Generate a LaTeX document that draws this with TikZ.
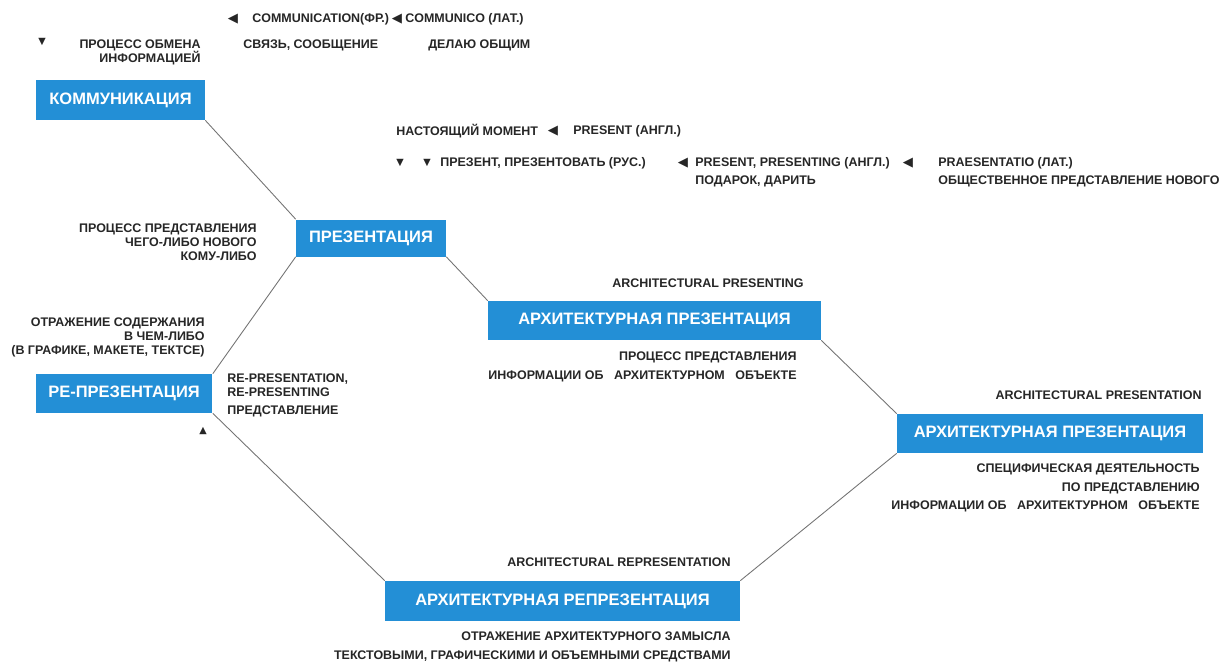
\documentclass[tikz,border=0pt]{standalone}
\usepackage{fontspec}
\setmainfont{Liberation Sans}
\newfontfamily\symf{DejaVu Sans}
\definecolor{termblue}{RGB}{35,143,214}

\begin{document}
\begin{tikzpicture}[x=0.02cm,y=-0.02cm,
		term/.style={rectangle,fill=termblue,text=white,inner sep=0pt,
			font=\bfseries\fontsize{9.4}{10}\selectfont},
		note/.style={inner sep=0pt,text=black!85,
			font=\bfseries\fontsize{7.1}{8}\selectfont},
		wide note/.style={note,font=\bfseries\fontsize{7.1}{10.6}\selectfont},
		pointer/.style={inner sep=0pt,text=black!85,font=\symf\fontsize{5.5}{6}\selectfont},
		left pointer/.style={pointer,font=\symf\fontsize{7.5}{8}\selectfont},
		link/.style={draw=black!55,line width=0.5pt}]
		
		\useasboundingbox (0,0) rectangle (1228,664);
		
		% blue terms
		\node[term,minimum width=3.38cm,minimum height=0.80cm] (komm) at (120.5,100) {КОММУНИКАЦИЯ};
		\node[term,minimum width=3.00cm,minimum height=0.74cm] (prez) at (371,238) {ПРЕЗЕНТАЦИЯ};
		\node[term,minimum width=6.66cm,minimum height=0.78cm] (archpr) at (654.5,320.5) {АРХИТЕКТУРНАЯ ПРЕЗЕНТАЦИЯ};
		\node[term,minimum width=6.12cm,minimum height=0.78cm] (archpn) at (1050,433.5) {АРХИТЕКТУРНАЯ ПРЕЗЕНТАЦИЯ};
		\node[term,minimum width=3.54cm,minimum height=0.78cm] (repr) at (124,393.5) {РЕ-ПРЕЗЕНТАЦИЯ};
		\node[term,minimum width=7.10cm,minimum height=0.80cm] (archrep) at (562.5,601) {АРХИТЕКТУРНАЯ РЕПРЕЗЕНТАЦИЯ};
		
		\path[link]
		(komm.south east) edge (prez.north west)
		(prez.south east) edge (archpr.north west)
		(archpr.south east) edge (archpn.north west)
		(archpn.south west) edge (archrep.north east)
		(archrep.north west) edge (repr.south east)
		(repr.north east) edge (prez.south west);
		
		% little pointers
		\node[pointer] (p1) at (42,42) {▼};
		\node[left pointer] (p2) at (233,19) {◀};
		\node[left pointer] (p3) at (397,19) {◀};
		\node[left pointer] (p4) at (553,131) {◀};
		\node[pointer] (p5) at (400,163) {▼};
		\node[pointer] (p6) at (427,163) {▼};
		\node[left pointer] (p7) at (683,163) {◀};
		\node[left pointer] (p8) at (908,163) {◀};
		\node[pointer] (p9) at (203,431) {▲};
		
		% etymology, top
		\node[note,anchor=east,align=right] (obmen) at (201,52) {ПРОЦЕСС ОБМЕНА\\ИНФОРМАЦИЕЙ};
		\node[note,anchor=west] (commfr) at (252,19) {COMMUNICATION(ФР.)};
		\node[note,anchor=west] (commlat) at (405,19) {COMMUNICO (ЛАТ.)};
		\node[note,anchor=west] (svyaz) at (243,45) {СВЯЗЬ, СООБЩЕНИЕ};
		\node[note,anchor=west] (delayu) at (428,45) {ДЕЛАЮ ОБЩИМ};
		
		\node[note,anchor=west] (moment) at (396,131) {НАСТОЯЩИЙ МОМЕНТ};
		\node[note,anchor=west] (presnow) at (573,131) {PRESENT (АНГЛ.)};
		\node[note,anchor=west] (prezrus) at (440,163) {ПРЕЗЕНТ, ПРЕЗЕНТОВАТЬ (РУС.)};
		\node[note,anchor=west] (presengl) at (695,163) {PRESENT, PRESENTING (АНГЛ.)};
		\node[note,anchor=west] (praes) at (938,163) {PRAESENTATIO (ЛАТ.)};
		\node[note,anchor=west] (podarok) at (695,181) {ПОДАРОК, ДАРИТЬ};
		\node[note,anchor=west] (novogo) at (938,181) {ОБЩЕСТВЕННОЕ ПРЕДСТАВЛЕНИЕ НОВОГО};
		
		% left side
		\node[note,anchor=east,align=right] (procpred) at (257,242) {ПРОЦЕСС ПРЕДСТАВЛЕНИЯ\\ЧЕГО-ЛИБО НОВОГО\\КОМУ-ЛИБО};
		\node[note,anchor=east,align=right] (otrazh) at (205,337) {ОТРАЖЕНИЕ СОДЕРЖАНИЯ\\В ЧЕМ-ЛИБО\\(В ГРАФИКЕ, МАКЕТЕ, ТЕКТСЕ)};
		\node[note,anchor=west,align=left] (represng) at (227,385) {RE-PRESENTATION,\\RE-PRESENTING};
		\node[note,anchor=west] (predst) at (227,411) {ПРЕДСТАВЛЕНИЕ};
		
		% architectural terms
		\node[note,anchor=east] (enpresenting) at (804,283) {ARCHITECTURAL PRESENTING};
		\node[wide note,anchor=east,align=right] (procinfo) at (797,367) {ПРОЦЕСС ПРЕДСТАВЛЕНИЯ\\ИНФОРМАЦИИ ОБ\hspace{6pt}АРХИТЕКТУРНОМ\hspace{6pt}ОБЪЕКТЕ};
		\node[note,anchor=east] (enpresentation) at (1202,395) {ARCHITECTURAL PRESENTATION};
		\node[wide note,anchor=east,align=right] (specdeyat) at (1200,488) {СПЕЦИФИЧЕСКАЯ ДЕЯТЕЛЬНОСТЬ\\ПО ПРЕДСТАВЛЕНИЮ\\ИНФОРМАЦИИ ОБ\hspace{6pt}АРХИТЕКТУРНОМ\hspace{6pt}ОБЪЕКТЕ};
		\node[note,anchor=east] (enrepresentation) at (731,562) {ARCHITECTURAL REPRESENTATION};
		\node[wide note,anchor=east,align=right] (zamysel) at (731,647) {ОТРАЖЕНИЕ АРХИТЕКТУРНОГО ЗАМЫСЛА\\ТЕКСТОВЫМИ, ГРАФИЧЕСКИМИ И ОБЪЕМНЫМИ СРЕДСТВАМИ};
		\end{tikzpicture}
\end{document}
